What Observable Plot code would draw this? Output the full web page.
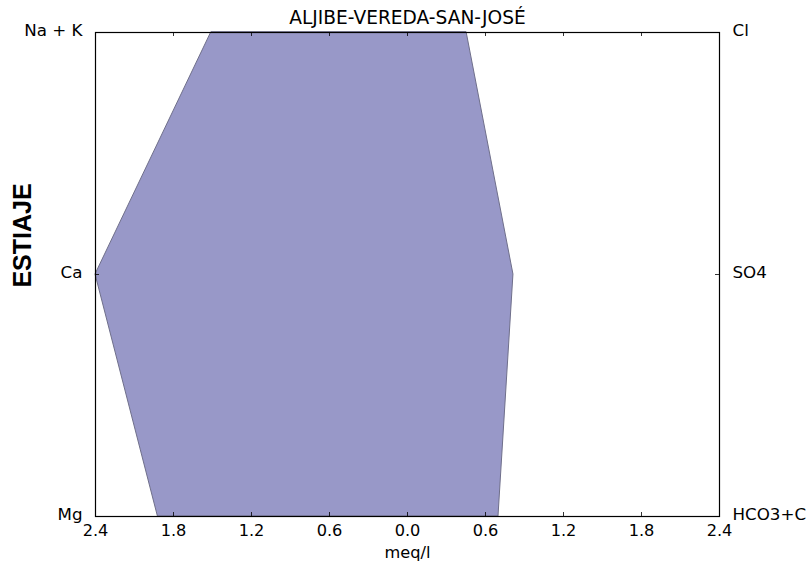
<!DOCTYPE html>
<html>
<head>
<meta charset="utf-8">
<script src="https://cdn.jsdelivr.net/npm/d3@7"></script>
<script src="https://cdn.jsdelivr.net/npm/@observablehq/plot@0.6"></script>
<style>
  html, body { margin: 0; padding: 0; background: white; overflow: hidden; }
</style>
</head>
<body>
<div id="chart"></div>
<script>
const title = "ALJIBE-VEREDA-SAN-JOSÉ";
const season = "ESTIAJE";
const cations = ["Na + K", "Ca", "Mg"];
const cationValues = [1.51, 2.4, 1.92];
const anions = ["Cl", "SO4", "HCO3+CO3"];
const anionValues = [0.455, 0.815, 0.70];
const levels = [2, 1, 0];
const xTicks = [-2.4, -1.8, -1.2, -0.6, 0, 0.6, 1.2, 1.8, 2.4];
const xLabel = "meq/l";

const W = 806, H = 565;
const mL = 95, mR = 87, mT = 32, mB = 49;
const xDom = [-2.4, 2.4], yDom = [0, 2];
const tickLenY = 4 * (yDom[1] - yDom[0]) / (H - mT - mB);
const tickLenX = 4 * (xDom[1] - xDom[0]) / (W - mL - mR);

const rows = levels.map((lv, i) => ({
  y: lv, cat: cations[i], an: anions[i],
  left: -cationValues[i], right: anionValues[i]
}));

const chart = Plot.plot({
  width: W, height: H,
  marginLeft: mL, marginRight: mR, marginTop: mT, marginBottom: mB,
  x: {domain: xDom, axis: null},
  y: {domain: yDom, axis: null},
  style: {fontFamily: "DejaVu Sans", fontSize: "16px", color: "#000", background: "white", overflow: "visible"},
  marks: [
    Plot.areaX(rows, {y: "y", x1: "left", x2: "right", fill: "rgb(152,152,200)", stroke: "#6f6f8a", strokeWidth: 1}),
    Plot.frame({stroke: "#000", strokeWidth: 1.2}),
    Plot.ruleX(xTicks, {x: d => d, y1: yDom[0], y2: yDom[0] + tickLenY, stroke: "#000", strokeWidth: 0.8}),
    Plot.ruleX(xTicks, {x: d => d, y1: yDom[1], y2: yDom[1] - tickLenY, stroke: "#000", strokeWidth: 0.8}),
    Plot.ruleY(levels, {y: d => d, x1: xDom[0], x2: xDom[0] + tickLenX, stroke: "#000", strokeWidth: 0.8}),
    Plot.ruleY(levels, {y: d => d, x1: xDom[1], x2: xDom[1] - tickLenX, stroke: "#000", strokeWidth: 0.8}),
    Plot.text(rows, {x: xDom[0], y: "y", text: "cat", textAnchor: "end", lineAnchor: "bottom", dx: -13, dy: 3, fontSize: 16.7, fill: "#000"}),
    Plot.text(rows, {x: xDom[1], y: "y", text: "an", textAnchor: "start", lineAnchor: "bottom", dx: 13, dy: 3, fontSize: 16.7, fill: "#000"}),
    Plot.text(xTicks, {x: d => d, y: yDom[0], text: d => Math.abs(d).toFixed(1), lineAnchor: "top", dy: 8, fontSize: 16.2, fill: "#000"}),
    Plot.text([xLabel], {frameAnchor: "bottom", text: d => d, lineAnchor: "middle", dy: 36, fontSize: 16.2, fill: "#000"}),
    Plot.text([title], {frameAnchor: "top", text: d => d, lineAnchor: "middle", dy: -14, fontSize: 18.6, fill: "#000"}),
    Plot.text([season], {frameAnchor: "left", text: d => d, rotate: -90, textAnchor: "middle", lineAnchor: "middle", dx: -73, dy: -39, fontSize: 25, fontWeight: "bold", fontFamily: "Liberation Sans", fill: "#000"})
  ]
});
document.getElementById("chart").appendChild(chart);
</script>
</body>
</html>
